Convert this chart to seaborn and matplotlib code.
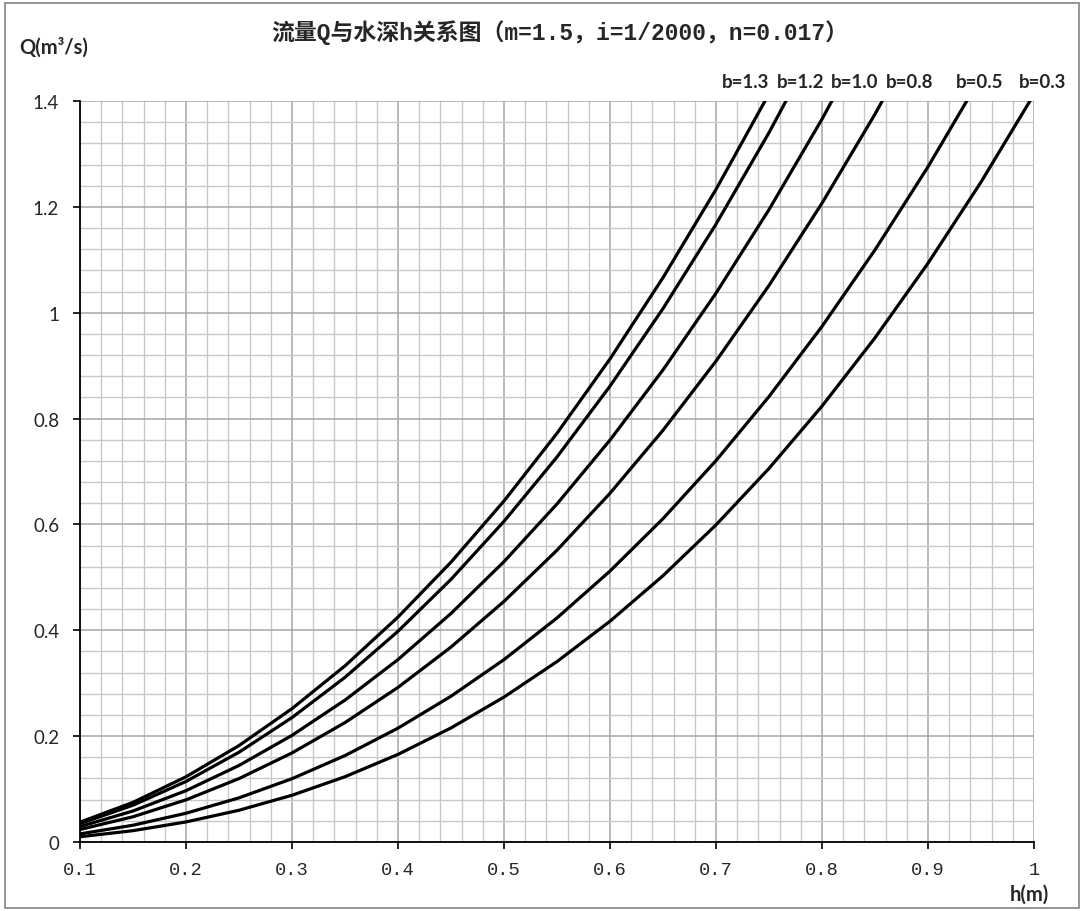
import matplotlib
matplotlib.use('Agg')
import matplotlib.pyplot as plt
import matplotlib.ticker as mticker
import matplotlib.transforms as mtransforms
from matplotlib.patches import Rectangle
import seaborn as sns

# water depth h (m), sampled every 0.05
H_M = [0.10, 0.15, 0.20, 0.25, 0.30, 0.35, 0.40, 0.45, 0.50, 0.55,
       0.60, 0.65, 0.70, 0.75, 0.80, 0.85, 0.90, 0.95, 1.00]

# discharge Q (m3/s), from h=0.1 until it leaves the top of the plot
Q_B13 = [0.0375, 0.0749, 0.1232, 0.1822, 0.2520, 0.3328, 0.4250, 0.5287, 0.6443, 0.7722,
         0.9127, 1.0662, 1.2330, 1.4136]
Q_B12 = [0.0347, 0.0695, 0.1144, 0.1696, 0.2351, 0.3111, 0.3981, 0.4962, 0.6058, 0.7274,
         0.8613, 1.0078, 1.1673, 1.3402, 1.5269]
Q_B10 = [0.0291, 0.0586, 0.0970, 0.1446, 0.2015, 0.2681, 0.3447, 0.4318, 0.5297, 0.6387,
         0.7594, 0.8920, 1.0370, 1.1948, 1.3657, 1.5501]
Q_B08 = [0.0236, 0.0477, 0.0797, 0.1198, 0.1683, 0.2256, 0.2921, 0.3683, 0.4546, 0.5513,
         0.6589, 0.7779, 0.9086, 1.0515, 1.2069, 1.3752, 1.5568]
Q_B05 = [0.0153, 0.0317, 0.0543, 0.0834, 0.1196, 0.1633, 0.2151, 0.2754, 0.3446, 0.4233,
         0.5119, 0.6109, 0.7206, 0.8416, 0.9741, 1.1187, 1.2757, 1.4457]
Q_B03 = [0.0099, 0.0214, 0.0379, 0.0600, 0.0883, 0.1233, 0.1655, 0.2155, 0.2738, 0.3409,
         0.4171, 0.5031, 0.5991, 0.7058, 0.8235, 0.9526, 1.0935, 1.2468, 1.4127]

SERIES = [Q_B13, Q_B12, Q_B10, Q_B08, Q_B05, Q_B03]
LABELS = ['b=1.3', 'b=1.2', 'b=1.0', 'b=0.8', 'b=0.5', 'b=0.3']
LABEL_X = [0.728, 0.780, 0.831, 0.883, 0.949, 1.008]  # where each label sits (h)

TITLE = '流量Q与水深h关系图（m=1.5，i=1/2000，n=0.017）'

sns.set_style('white')
plt.rcParams['font.family'] = ['Lato', 'DejaVu Sans']

fig = plt.figure(figsize=(10.81, 9.12), dpi=100)
ax = fig.add_axes([80 / 1081, 1 - 843 / 912, 954 / 1081, 741 / 912])

for q in SERIES:
    sns.lineplot(x=H_M[:len(q)], y=q, ax=ax, color='black', linewidth=2.3,
                 estimator=None, sort=False)

ax.set_xlim(0.1, 1.0)
ax.set_ylim(0, 1.4)

xt = [0.1, 0.2, 0.3, 0.4, 0.5, 0.6, 0.7, 0.8, 0.9, 1.0]
yt = [0, 0.2, 0.4, 0.6, 0.8, 1.0, 1.2, 1.4]
ax.xaxis.set_major_locator(mticker.FixedLocator(xt))
ax.yaxis.set_major_locator(mticker.FixedLocator(yt))
ax.xaxis.set_minor_locator(mticker.MultipleLocator(0.02))
ax.yaxis.set_minor_locator(mticker.MultipleLocator(0.04))
fmt = mticker.FuncFormatter(lambda v, p: f'{v:g}')
ax.xaxis.set_major_formatter(fmt)
ax.yaxis.set_major_formatter(fmt)

ax.grid(True, which='major', color='#a6a6a6', linewidth=1.1)
ax.grid(True, which='minor', color='#c8c8c8', linewidth=1.0)
ax.set_axisbelow(True)

for s in ['top', 'right']:
    ax.spines[s].set_visible(False)
for s in ['left', 'bottom']:
    ax.spines[s].set_color('black')
    ax.spines[s].set_linewidth(1.3)

ax.tick_params(axis='both', which='major', direction='out', length=5, width=1.2,
               color='black', left=True, bottom=True)
ax.tick_params(axis='both', which='minor', length=0)
ax.tick_params(axis='y', labelsize=13.5, pad=10)
ax.tick_params(axis='x', labelsize=13.5, pad=9)
for lab in ax.get_xticklabels():
    lab.set_family(['Liberation Mono', 'DejaVu Sans'])

ax.set_xlabel('')
ax.set_ylabel('')

trans = mtransforms.blended_transform_factory(ax.transData, ax.transAxes)
for x, lab in zip(LABEL_X, LABELS):
    ax.text(x, 1.026, lab, transform=trans, ha='center', va='center',
            fontsize=13.5, fontweight='bold', clip_on=False)

fig.text(560 / 1081, 1 - 33 / 912, TITLE, ha='center', va='center', fontsize=16.5,
         fontweight='bold', family=['Liberation Mono', 'Noto Sans CJK SC', 'DejaVu Sans'])
fig.text(54 / 1081, 1 - 48 / 912, 'Q(m³/s)', ha='center', va='center',
         fontsize=14.5, fontweight='bold')
fig.text(1029 / 1081, 1 - 895 / 912, 'h(m)', ha='center', va='center',
         fontsize=14.5, fontweight='bold')

fig.patches.append(Rectangle((5 / 1081, 3 / 912), 1074 / 1081, 905 / 912,
                             transform=fig.transFigure, fill=False,
                             edgecolor='#8c8c8c', linewidth=1.3))

fig.savefig('out.png', dpi=100)
